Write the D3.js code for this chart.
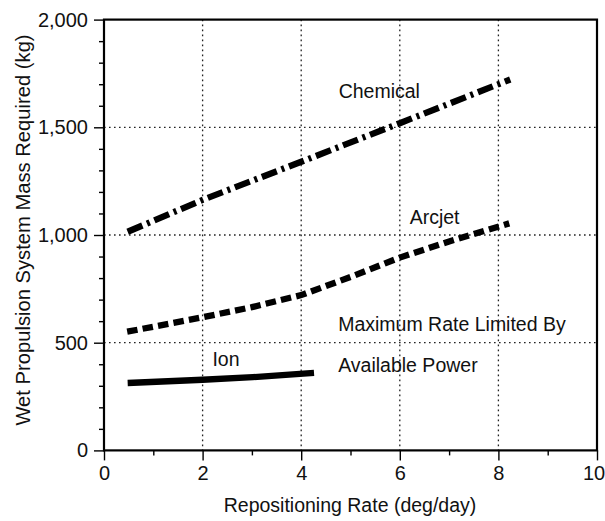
<!DOCTYPE html>
<html>
<head>
<meta charset="utf-8">
<script src="https://cdn.jsdelivr.net/npm/d3@7"></script>
<style>
  html, body { margin: 0; padding: 0; background: #fff; }
  svg { display: block; }
  text { font-family: "Liberation Sans", Arial, Helvetica, sans-serif; fill: #111; }
</style>
</head>
<body>
<svg id="chart" width="605" height="521"></svg>
<script>
// Repositioning rate (deg/day) vs. wet propulsion system mass (kg)
const chemicalRate = [0.48, 2, 4, 6, 8.24];
const chemicalMass = [1015, 1163, 1340, 1519, 1722];

const arcjetRate = [0.47, 2, 3, 4, 5, 6, 7, 8.22];
const arcjetMass = [551, 618, 665, 721, 805, 895, 970, 1054];

const ionRate = [0.48, 2, 3.02, 4.26];
const ionMass = [313, 328, 340, 360];

const xTicks = [0, 2, 4, 6, 8, 10];
const yTicks = [0, 500, 1000, 1500, 2000];

const labels = [
  { text: "Chemical", x: 4.76, y: 1636 },
  { text: "Arcjet", x: 6.2, y: 1051 },
  { text: "Maximum Rate Limited By", x: 4.75, y: 553 },
  { text: "Available Power", x: 4.75, y: 362 },
  { text: "Ion", x: 2.2, y: 390 }
];

const svg = d3.select("#chart");
const M = { left: 104, right: 597, top: 19.6, bottom: 450.4 };
const FONT = "'Liberation Sans', Arial, Helvetica, sans-serif";

const x = d3.scaleLinear().domain([0, 10]).range([M.left, M.right]);
const y = d3.scaleLinear().domain([0, 2000]).range([M.bottom, M.top]);

// dotted grid
const grid = svg.append("g").attr("stroke", "#222").attr("stroke-width", 1.3)
  .attr("stroke-dasharray", "1.6 3.4");
[2, 4, 6, 8].forEach(v => {
  grid.append("line").attr("x1", x(v)).attr("x2", x(v)).attr("y1", M.top).attr("y2", M.bottom);
});
[500, 1000, 1500].forEach(v => {
  grid.append("line").attr("x1", M.left).attr("x2", M.right).attr("y1", y(v)).attr("y2", y(v));
});

// frame
svg.append("rect").attr("x", M.left).attr("y", M.top)
  .attr("width", M.right - M.left).attr("height", M.bottom - M.top)
  .attr("fill", "none").attr("stroke", "#000").attr("stroke-width", 2.2);

function styleAxis(g, size) {
  g.select(".domain").remove();
  g.selectAll(".tick line").attr("stroke", "#000").attr("stroke-width", 1.4);
  g.selectAll(".tick text").attr("font-size", size).attr("fill", "#111")
    .attr("font-family", FONT);
}

// x axis: major ticks labelled, minor ticks at odd values
const gx = svg.append("g").attr("transform", `translate(0,${M.bottom})`)
  .call(d3.axisBottom(x).tickValues(xTicks).tickSize(10).tickPadding(5)
    .tickFormat(d3.format("d")));
styleAxis(gx, 20);
// keep the last label inside the page edge
gx.selectAll(".tick text").filter(d => d === 10).attr("dx", -3.5);
const gxm = svg.append("g").attr("transform", `translate(0,${M.bottom})`)
  .call(d3.axisBottom(x).tickValues(d3.range(1, 10, 2)).tickSize(5).tickFormat(""));
styleAxis(gxm, 0);

// y axis: major ticks labelled, minor ticks every 100 kg
const gy = svg.append("g").attr("transform", `translate(${M.left},0)`)
  .call(d3.axisLeft(y).tickValues(yTicks).tickSize(10).tickPadding(6)
    .tickFormat(d3.format(",")));
styleAxis(gy, 20);
const gym = svg.append("g").attr("transform", `translate(${M.left},0)`)
  .call(d3.axisLeft(y).tickValues(d3.range(100, 2000, 100).filter(v => v % 500 !== 0))
    .tickSize(5).tickFormat(""));
styleAxis(gym, 0);

// axis titles
svg.append("text").attr("x", 350).attr("y", 512)
  .attr("text-anchor", "middle").attr("font-size", 19.5)
  .text("Repositioning Rate (deg/day)");
svg.append("text").attr("transform", "translate(30,230) rotate(-90)")
  .attr("text-anchor", "middle").attr("font-size", 20.2)
  .text("Wet Propulsion System Mass Required (kg)");

// series lines
const line = d3.line().x(d => x(d[0])).y(d => y(d[1]));
const series = [
  { rate: chemicalRate, mass: chemicalMass, dash: "16 5 3 5" },
  { rate: arcjetRate, mass: arcjetMass, dash: "10.5 5.2" },
  { rate: ionRate, mass: ionMass, dash: null }
];
series.forEach(s => {
  const pts = s.rate.map((r, i) => [r, s.mass[i]]);
  const p = svg.append("path").datum(pts).attr("d", line)
    .attr("fill", "none").attr("stroke", "#000").attr("stroke-width", 6.3);
  if (s.dash) p.attr("stroke-dasharray", s.dash);
});

// annotations
svg.selectAll(".note").data(labels).join("text").attr("class", "note")
  .attr("x", d => x(d.x)).attr("y", d => y(d.y))
  .attr("font-size", 19.5)
  .text(d => d.text);
</script>
</body>
</html>
